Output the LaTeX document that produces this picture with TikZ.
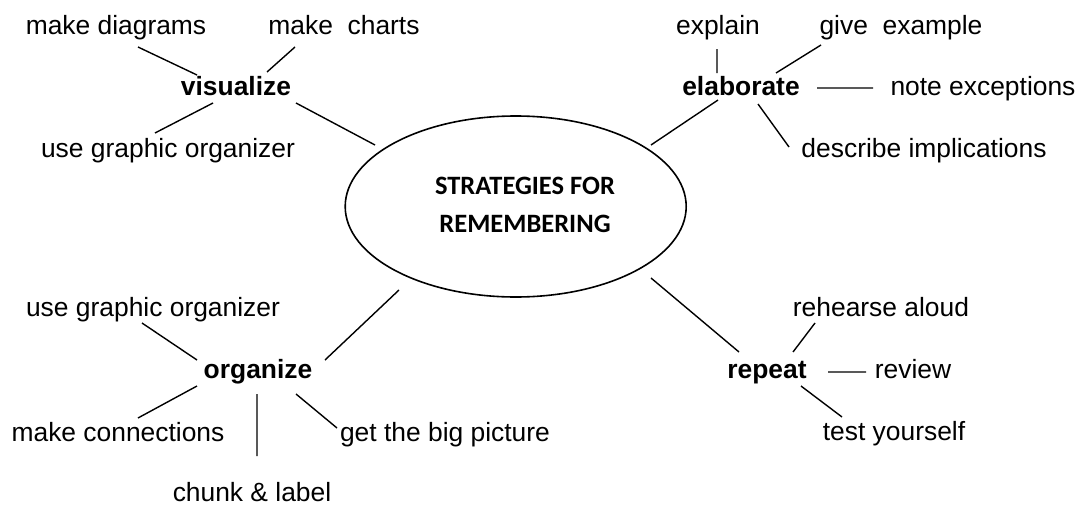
\documentclass[tikz,border=0pt]{standalone}
\usepackage{fontspec}
\setmainfont{Liberation Sans}
\newfontfamily\calibfont{Carlito}
\usetikzlibrary{shapes.geometric}
\begin{document}
\begin{tikzpicture}[x=1pt,y=-1pt,
  lbl/.style={anchor=base, inner sep=0pt, font=\fontsize{26.4}{30}\selectfont},
  hub/.style={anchor=base, inner sep=0pt, font=\fontsize{26.4}{30}\selectfont\bfseries},
  link/.style={draw, line width=1.4pt, line cap=butt},
  core/.style={draw, ellipse, line width=1.6pt, inner sep=0pt}]
\useasboundingbox (0,0) rectangle (1078,506);

% central node
\node[core, minimum width=341pt, minimum height=181pt] (core) at (515.7,206.5) {};
\node[inner sep=0pt, align=center, font=\calibfont\bfseries\fontsize{26.5}{38}\selectfont] (title) at (525,204.5) {STRATEGIES FOR\\REMEMBERING};

% visualize group
\node[hub] (vis) at (236,95) {visualize};
\node[lbl] (mdiag) at (116,34.5) {make diagrams};
\node[lbl] (mchart) at (344,34.5) {make\ \ charts};
\node[lbl] (ugo1) at (168,157) {use graphic organizer};

% elaborate group
\node[hub] (elab) at (741,95) {elaborate};
\node[lbl] (expl) at (718,34.5) {explain};
\node[lbl] (gex) at (901,34.5) {give\ \ example};
\node[lbl] (noteex) at (983,95) {note exceptions};
\node[lbl] (descr) at (924,157) {describe implications};

% organize group
\node[hub] (org) at (258,378) {organize};
\node[lbl] (ugo2) at (153,316.7) {use graphic organizer};
\node[lbl] (mconn) at (118,441) {make connections};
\node[lbl] (bigpic) at (445,441) {get the big picture};
\node[lbl] (chunk) at (252,501.7) {chunk \& label};

% repeat group
\node[hub] (rep) at (767,378) {repeat};
\node[lbl] (reh) at (881,316.7) {rehearse aloud};
\node[lbl] (rev) at (913,378) {review};
\node[lbl] (test) at (894,440) {test yourself};

% connector end points
\coordinate (a1) at (138,47);  \coordinate (a2) at (197,75);
\coordinate (b1) at (295,47);  \coordinate (b2) at (267,72);
\coordinate (c1) at (213,103); \coordinate (c2) at (155,133);
\coordinate (d1) at (296,103); \coordinate (d2) at (375,145);

\coordinate (e1) at (717,49);  \coordinate (e2) at (717,73);
\coordinate (f1) at (821,45);  \coordinate (f2) at (776,73);
\coordinate (g1) at (817,88);  \coordinate (g2) at (873,88);
\coordinate (h1) at (758,104); \coordinate (h2) at (789,147);
\coordinate (i1) at (718,100); \coordinate (i2) at (651,145);

\coordinate (j1) at (142,323); \coordinate (j2) at (197,360);
\coordinate (k1) at (325,360); \coordinate (k2) at (399,290);
\coordinate (l1) at (197,386); \coordinate (l2) at (138,418);
\coordinate (m1) at (257,394); \coordinate (m2) at (257,456);
\coordinate (n1) at (296,394); \coordinate (n2) at (337,428);

\coordinate (o1) at (651,278); \coordinate (o2) at (739,352);
\coordinate (p1) at (815,323); \coordinate (p2) at (793,352);
\coordinate (q1) at (828,372); \coordinate (q2) at (866,372);
\coordinate (r1) at (801,386); \coordinate (r2) at (842,417);

\path[link] (a1) -- (a2) (b1) -- (b2) (c1) -- (c2) (d1) -- (d2);
\path[link] (e1) -- (e2) (f1) -- (f2) (g1) -- (g2) (h1) -- (h2) (i1) -- (i2);
\path[link] (j1) -- (j2) (k1) -- (k2) (l1) -- (l2) (m1) -- (m2) (n1) -- (n2);
\path[link] (o1) -- (o2) (p1) -- (p2) (q1) -- (q2) (r1) -- (r2);
\end{tikzpicture}
\end{document}
